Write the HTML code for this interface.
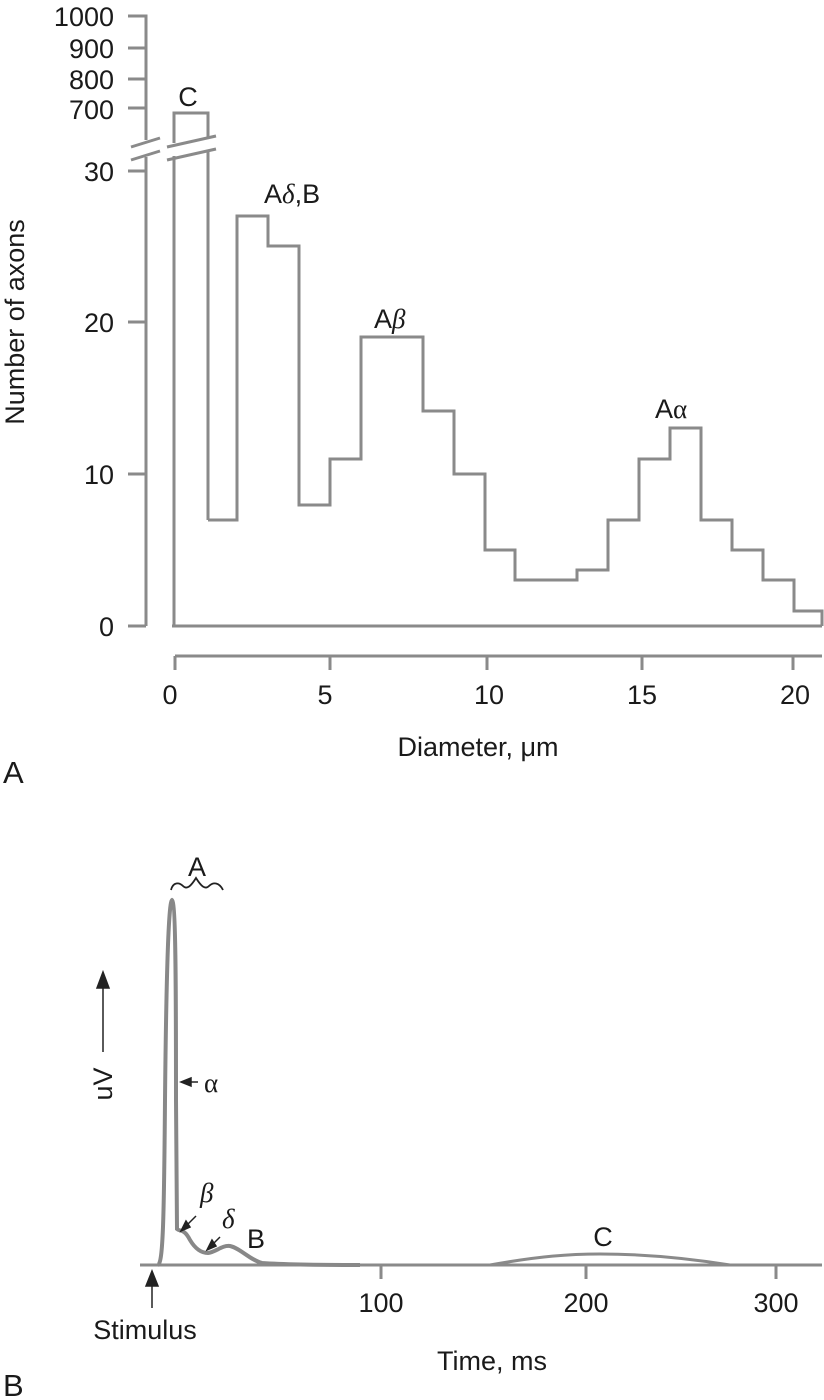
<!DOCTYPE html>
<html><head><meta charset="utf-8"><style>
html,body{margin:0;padding:0;background:#fff;}
svg{display:block;font-family:"Liberation Sans",Arial,sans-serif;}
</style></head><body>
<svg width="824" height="1400" viewBox="0 0 824 1400" xmlns="http://www.w3.org/2000/svg">
<g fill="none" stroke="#8a8a8a" stroke-width="3" stroke-linejoin="miter">
<path d="M128,16 H146 V140"/>
<path d="M128,48 H146 M128,79 H146 M128,108 H146"/>
<path d="M146,157 V626 M128,171 H146 M128,322 H146 M128,474 H146 M128,626 H146"/>
<path d="M131,147 L160,138 M131,160 L160,151 M167,147 L216,136 M167,160 L216,149"/>
<path d="M174,156 V626 M174,143 V113 H208 V138 M208,151 V520"/>
<path d="M208,520 H237 V216 H268 V246 H299 V505 H330 V459 H361 V337 H423 V411 H454 V474 H485 V550 H515 V580 H577 V570 H608 V520 H639 V459 H670 V428 H701 V520 H732 V550 H763 V580 H794 V611 H822 V626"/>
<path d="M172,626 H822"/>
<path d="M175,656 H822 M175,656 V670 M330,656 V670 M487,656 V670 M642,656 V670 M793,656 V670"/>
</g>
<g fill="#1a1a1a" font-size="27">
<text x="114" y="26" text-anchor="end">1000</text>
<text x="114" y="58" text-anchor="end">900</text>
<text x="114" y="89" text-anchor="end">800</text>
<text x="114" y="119" text-anchor="end">700</text>
<text x="114" y="181" text-anchor="end">30</text>
<text x="114" y="332" text-anchor="end">20</text>
<text x="114" y="484" text-anchor="end">10</text>
<text x="114" y="636" text-anchor="end">0</text>
<text x="170" y="704" text-anchor="middle">0</text>
<text x="325" y="704" text-anchor="middle">5</text>
<text x="489" y="704" text-anchor="middle">10</text>
<text x="642" y="704" text-anchor="middle">15</text>
<text x="795" y="704" text-anchor="middle">20</text>
<text x="478" y="756" text-anchor="middle">Diameter, μm</text>
<text transform="translate(24,322) rotate(-90)" text-anchor="middle">Number of axons</text>
<text x="188" y="106" text-anchor="middle">C</text>
<text x="264" y="203">A<tspan font-family="Liberation Serif" font-style="italic">δ</tspan>,B</text>
<text x="374" y="328">A<tspan font-family="Liberation Serif" font-style="italic">β</tspan></text>
<text x="655" y="418">A<tspan font-family="Liberation Serif">α</tspan></text>
<text x="3" y="783" font-size="31">A</text>
<text x="3" y="1396" font-size="31">B</text>
</g>
<g fill="none" stroke="#8a8a8a" stroke-width="3">
<path d="M140,1265 H822 M381,1265 V1279 M586,1265 V1279 M776,1265 V1279"/>
<path d="M490,1265 C540,1256 570,1254 600,1254 C640,1254 680,1257 730,1265"/>
</g>
<path d="M158,1265 C163,1263 164,1220 165,1100 C166,1000 168,902 172,900 C176,902 176,1000 176,1100 L177,1229 C180,1232 184,1228 190,1240 C196,1250 202,1253 208,1253 C216,1252 222,1245 230,1246 C240,1248 250,1260 262,1263 C290,1265 330,1265 360,1265" fill="none" stroke="#888" stroke-width="4"/>
<g stroke="#222" stroke-width="1.5" fill="#222">
<path d="M152,1308 V1280"/><path d="M146,1286 L152,1271 L158,1286 Z"/>
<path d="M103,1052 V985"/><path d="M97,988 L103,972 L109,988 Z"/>
<path d="M185,1082 H198"/><path d="M191,1078 L181,1082 L191,1086 Z"/>
<path d="M196,1216 L184,1228"/><path d="M186,1221 L181,1231 L190,1227 Z"/>
<path d="M220,1237 L210,1247"/><path d="M212,1240 L207,1250 L216,1246 Z"/>
</g>
<path d="M171,890 C173,882 179,882 183,886 C187,890 191,886 196,878 C201,886 205,890 209,886 C213,882 219,882 223,890" fill="none" stroke="#222" stroke-width="1.8"/>
<g fill="#1a1a1a" font-size="27">
<text x="197" y="876" text-anchor="middle">A</text>
<text transform="translate(112,1084) rotate(-90)" text-anchor="middle">uV</text>
<text x="204" y="1092" font-family="Liberation Serif">α</text>
<text x="200" y="1202" font-family="Liberation Serif" font-style="italic">β</text>
<text x="222" y="1228" font-family="Liberation Serif" font-style="italic">δ</text>
<text x="247" y="1248">B</text>
<text x="603" y="1246" text-anchor="middle">C</text>
<text x="381" y="1312" text-anchor="middle">100</text>
<text x="586" y="1312" text-anchor="middle">200</text>
<text x="776" y="1312" text-anchor="middle">300</text>
<text x="145" y="1339" text-anchor="middle">Stimulus</text>
<text x="492" y="1370" text-anchor="middle">Time, ms</text>
</g>
</svg>
</body></html>
